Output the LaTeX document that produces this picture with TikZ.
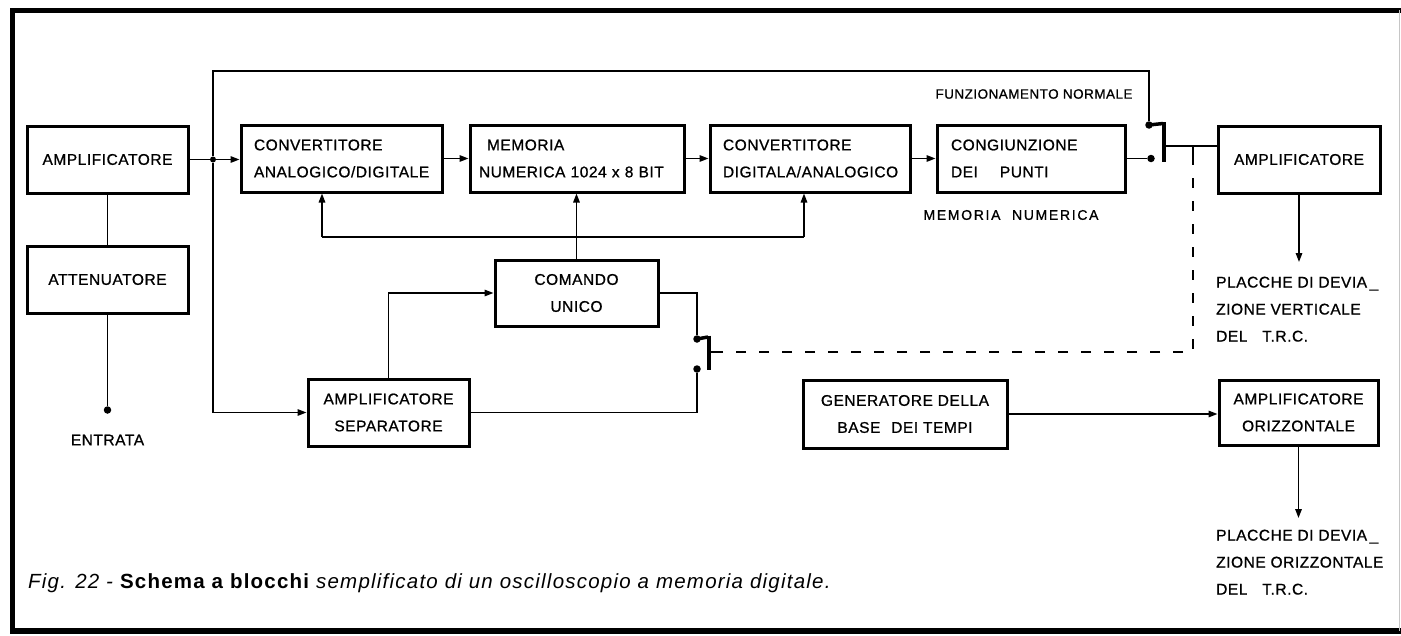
\documentclass[tikz,border=0pt]{standalone}
\usepackage{fontspec}
\setmainfont{Liberation Sans}
\newfontfamily\lblfont[LetterSpace=3.5,FakeBold=0.9]{Liberation Sans}
\newfontfamily\widefont[LetterSpace=12,FakeBold=0.9]{Liberation Sans}
\newfontfamily\capfont[LetterSpace=6]{Liberation Sans}
\usetikzlibrary{arrows.meta}
\begin{document}
\begin{tikzpicture}[x=1pt,y=-1pt,
  blk/.style n args={2}{draw, line width=3pt, minimum width=#1, minimum height=#2, inner sep=0pt, font=\lblfont\fontsize{15.5}{27}\selectfont, align=center},
  lblk/.style n args={3}{blk={#1}{#2}, text width=#3, align=left},
  wire/.style={line width=1.5pt},
  arr/.style={wire, -{Triangle[length=9pt,width=6.5pt]}},
  dot/.style={circle, fill, inner sep=0pt, minimum size=7.5pt},
  sdot/.style={circle, fill, inner sep=0pt, minimum size=6pt},
  blade/.style={line width=3.5pt},
  lbl/.style={font=\lblfont\fontsize{15.5}{27}\selectfont, inner sep=0pt, align=left},
]
\useasboundingbox (0,0) rectangle (1401,635);
% frame
\draw[line width=5.5pt] (1401,10.5) -- (12.5,10.5) -- (12.5,631) -- (1401,631);
\draw[gray!45, line width=0.8pt] (1399.5,10) -- (1399.5,631);

% blocks
\node[blk={161}{67}] (amp1) at (107.5,159.5) {AMPLIFICATORE};
\node[blk={161}{67}] (att) at (107.5,279.5) {ATTENUATORE};
\node[lblk={201}{67}{175pt}] (adc) at (341.5,158.5) {CONVERTITORE\\ANALOGICO/DIGITALE};
\node[lblk={214}{67}{196pt}] (mem) at (577,158.5) {\hspace{8pt}MEMORIA\\NUMERICA 1024 x 8 BIT};
\node[lblk={200}{67}{174pt}] (dac) at (810,158.5) {CONVERTITORE\\DIGITALA/ANALOGICO};
\node[lblk={188}{67}{160pt}] (cong) at (1031,158.5) {CONGIUNZIONE\\DEI\hspace{22pt}PUNTI};
\node[blk={162}{67}] (amp2) at (1299,159.5) {AMPLIFICATORE};
\node[blk={163}{66}] (cmd) at (576.5,293) {COMANDO\\UNICO};
\node[blk={161}{67}] (sep) at (388.5,412.5) {AMPLIFICATORE\\SEPARATORE};
\node[blk={204}{68}] (gen) at (905,414) {GENERATORE DELLA\\BASE\hspace{6pt} DEI TEMPI};
\node[blk={159}{65}] (ampo) at (1298.5,412.5) {AMPLIFICATORE\\ORIZZONTALE};

% labels
\node[lbl, anchor=center, font=\lblfont\fontsize{13.5}{20}\selectfont] (fn) at (1034,94) {FUNZIONAMENTO NORMALE};
\node[lbl, anchor=center, font=\widefont\fontsize{14}{20}\selectfont] (mn) at (1011,215) {MEMORIA\hspace{6pt} NUMERICA};
\node[lbl, anchor=north west] (pv) at (1216,276.5) {PLACCHE DI DEVIA\,\_\\ZIONE VERTICALE\\DEL\hspace{10pt} T.R.C.};
\node[lbl, anchor=north west] (po) at (1216,529.5) {PLACCHE DI DEVIA\,\_\\ZIONE ORIZZONTALE\\DEL\hspace{10pt} T.R.C.};
\node[lbl, anchor=center] (en) at (107.5,440) {ENTRATA};
\node[anchor=base west, inner sep=0pt, font=\capfont\fontsize{20.5}{22}\selectfont] (cap) at (28,588)
  {\itshape Fig. 22 - {\bfseries\upshape Schema a blocchi} semplificato di un oscilloscopio a memoria digitale.};

% dots / coordinates
\node[sdot] (j) at (213,159.5) {};
\node[dot] (in) at (107.5,410) {};
\node[dot] (s1a) at (1149,125) {};
\node[dot] (s1b) at (1151,158.5) {};
\node[dot] (s2a) at (697,339) {};
\node[dot] (s2b) at (697,369) {};
\coordinate (s1o) at (1164,146);
\coordinate (dk) at (1193,146);
\coordinate (s2o) at (709,352);
\coordinate (s2d) at (722,352);
\coordinate (busL) at (322,237);
\coordinate (busR) at (804,237);
\coordinate (pv1) at (1299,262);
\coordinate (po1) at (1298.5,518);

% connectors
\draw[wire] (amp1.south) -- (att.north);
\draw[wire] (att.south) -- (in);
\draw[arr] (amp1.east) -- (amp1.east -| adc.west);
\draw[wire] (j) -- (213,71) -| (s1a);
\draw[arr] (j) |- (sep.west);
\draw[arr] (adc.east) -- (adc.east -| mem.west);
\draw[arr] (mem.east) -- (mem.east -| dac.west);
\draw[arr] (dac.east) -- (dac.east -| cong.west);
\draw[wire] (cong.east) -- (s1b);
% switch 1
\draw[blade] (s1a.center) -- (1163,123.5);
\draw[blade] (1164,122) -- (1164,162);
\draw[wire] (s1o) -- (s1o -| amp2.west);
\draw[wire] (dk) -- (1193,165);
\draw[wire, dash pattern=on 10pt off 13pt] (1193,178) -- (1193,352) -- (s2d);
% switch 2
\draw[blade] (s2a.center) -- (708,337);
\draw[blade] (709,335.5) -- (709,369.5);
\draw[wire] (s2o) -- (s2d);
\draw[wire] (cmd.east) -| (s2a);
\draw[wire] (sep.east) -| (s2b);
% bus
\draw[wire] (busL) -- (busR);
\draw[arr] (busL) -- (busL |- adc.south);
\draw[arr] (busR) -- (busR |- dac.south);
\draw[arr] (cmd.north) -- (cmd.north |- mem.south);
\draw[arr] (sep.north) |- (cmd.west);
% outputs
\draw[arr] (amp2.south) -- (pv1);
\draw[arr] (gen.east) -- (gen.east -| ampo.west);
\draw[arr] (ampo.south) -- (po1);
\end{tikzpicture}
\end{document}
